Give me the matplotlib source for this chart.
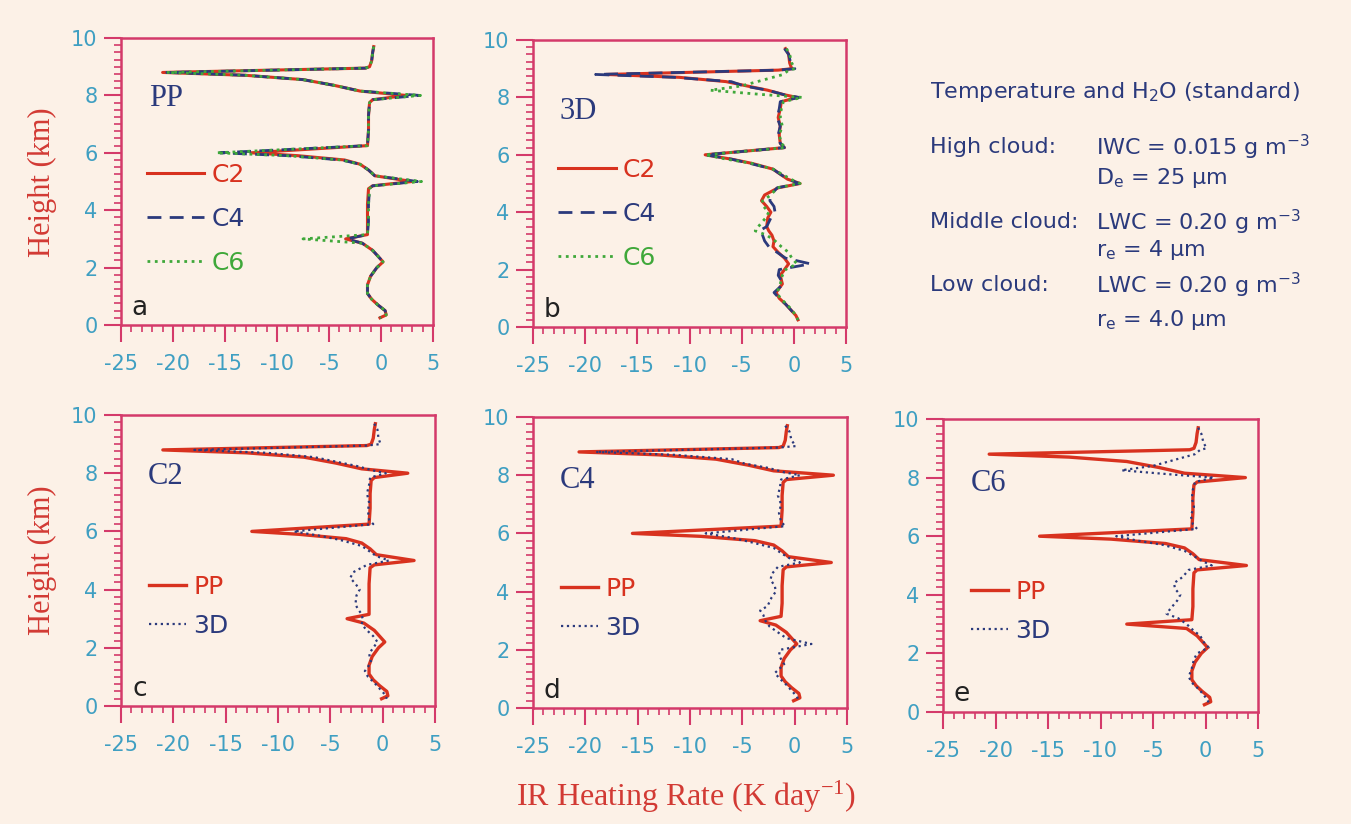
import matplotlib
matplotlib.use("Agg")
import matplotlib.pyplot as plt
from matplotlib.ticker import MultipleLocator

plt.rcParams['font.family'] = ['DejaVu Sans']
plt.rcParams['axes.unicode_minus'] = False
plt.rcParams['mathtext.default'] = 'regular'

# heights (km) for the plane-parallel (PP) profiles
h_pp = [9.7, 9.5, 9.2, 9.0, 8.95, 8.8, 8.7, 8.55, 8.35, 8.15,
        8.0, 7.85, 7.75, 7.3, 6.8, 6.25, 6.0, 5.9, 5.75, 5.6,
        5.4, 5.2, 5.0, 4.85, 4.75, 4.2, 3.6, 3.15, 3.0, 2.85,
        2.6, 2.4, 2.2, 2.0, 1.7, 1.4, 1.1, 0.9, 0.7, 0.5, 0.35, 0.25]

# IR heating rate (K/day), PP
pp_c2 = [-0.7, -0.8, -0.9, -1.1, -1.5, -21.0, -13.0, -7.5, -4.5, -2.0,
         2.4, -0.8, -1.1, -1.2, -1.2, -1.3, -12.5, -8.0, -3.5, -2.0,
         -1.2, -0.6, 3.0, -0.8, -1.2, -1.3, -1.3, -1.3, -3.4, -1.8,
         -0.8, -0.3, 0.2, -0.4, -1.0, -1.3, -1.3, -0.9, -0.3, 0.4, 0.5, -0.1]
pp_c4 = [-0.7, -0.8, -0.9, -1.1, -1.5, -20.6, -13.0, -7.5, -4.5, -2.0,
         3.7, -0.8, -1.1, -1.2, -1.2, -1.3, -15.5, -9.0, -3.8, -2.0,
         -1.2, -0.6, 3.5, -0.8, -1.1, -1.2, -1.2, -1.3, -3.3, -1.8,
         -0.8, -0.3, 0.2, -0.4, -1.0, -1.3, -1.3, -0.9, -0.3, 0.4, 0.5, -0.1]
pp_c6 = [-0.7, -0.8, -0.9, -1.1, -1.5, -20.6, -13.0, -7.5, -4.5, -2.0,
         3.8, -0.8, -1.1, -1.2, -1.2, -1.3, -15.8, -9.0, -3.8, -2.0,
         -1.2, -0.6, 3.9, -0.8, -1.1, -1.2, -1.2, -1.3, -7.5, -1.8,
         -0.8, -0.3, 0.2, -0.4, -1.0, -1.3, -1.3, -0.9, -0.3, 0.4, 0.5, -0.1]

# heights (km) for the 3D profiles
h_3d = [9.7, 9.5, 9.2, 9.0, 8.95, 8.8, 8.7, 8.55, 8.4, 8.25,
        8.1, 8.0, 7.85, 7.6, 7.3, 7.0, 6.7, 6.4, 6.25, 6.0,
        5.85, 5.7, 5.5, 5.3, 5.15, 5.0, 4.85, 4.6, 4.4, 4.2,
        4.0, 3.8, 3.5, 3.35, 3.2, 3.0, 2.8, 2.6, 2.4, 2.2,
        2.0, 1.8, 1.5, 1.2, 1.0, 0.8, 0.6, 0.4, 0.25]

td_c2 = [-0.8, -0.5, -0.4, -0.2, -1.5, -18.0, -11.0, -6.5, -4.5, -2.5,
         -1.0, 0.3, -1.2, -1.3, -1.5, -1.3, -1.4, -1.3, -0.9, -8.5,
         -6.0, -4.0, -2.0, -1.2, -0.6, 0.6, -1.5, -2.8, -3.1, -2.6,
         -2.2, -2.5, -2.6, -2.4, -2.1, -1.9, -2.0, -1.5, -0.9, -0.5,
         -0.9, -1.3, -1.1, -1.7, -1.4, -0.8, -0.3, 0.2, 0.4]
td_c4 = [-0.9, -0.5, -0.3, 0.1, -1.5, -19.0, -11.5, -6.0, -4.8, -2.5,
         -1.0, 0.5, -1.3, -1.4, -1.6, -1.3, -1.5, -1.3, -0.9, -8.5,
         -6.0, -4.2, -2.0, -1.2, -0.5, 0.5, -1.6, -2.2, -2.3, -1.9,
         -1.8, -2.2, -2.6, -3.3, -3.0, -2.8, -2.4, -1.6, -0.8, 1.6,
         -1.4, -1.5, -1.0, -1.9, -1.4, -0.8, -0.3, 0.2, 0.4]
td_c6 = [-0.7, -0.4, -0.2, 0.1, -0.5, -1.0, -2.0, -3.5, -5.0, -8.0,
         -3.0, 0.8, -1.0, -1.2, -1.3, -1.1, -1.4, -1.2, -0.8, -8.5,
         -6.5, -4.0, -2.0, -1.0, -0.3, 0.6, -1.6, -2.2, -3.0, -2.9,
         -2.4, -2.7, -3.4, -3.7, -2.6, -1.8, -1.2, -0.5, -0.2, 0.3,
         -0.8, -1.1, -1.3, -1.6, -1.3, -0.7, -0.2, 0.2, 0.4]

bg = '#fcf1e7'
spine = '#d43a6a'
tickc = '#3f9fc2'
red = '#d8321f'
navy = '#2b3a7c'
green = '#3fa83a'
label_red = '#d23a34'

fig = plt.figure(figsize=(13.51, 8.24), dpi=100, facecolor=bg)


def make_axes(left, top, right, bottom):
    W, H = 1351.0, 824.0
    ax = fig.add_axes([left / W, 1 - bottom / H, (right - left) / W, (bottom - top) / H])
    ax.set_facecolor(bg)
    ax.set_xlim(-25, 5)
    ax.set_ylim(0, 10)
    for s in ax.spines.values():
        s.set_color(spine)
        s.set_linewidth(1.8)
    ax.set_xticks(range(-25, 6, 5))
    ax.set_yticks(range(0, 11, 2))
    ax.xaxis.set_minor_locator(MultipleLocator(1))
    ax.yaxis.set_minor_locator(MultipleLocator(0.25))
    ax.tick_params(which='major', direction='out', length=12, width=1.5,
                   color=spine, labelcolor=tickc, labelsize=15)
    ax.tick_params(which='minor', direction='out', length=5, width=1.2, color=spine)
    ax.tick_params(axis='x', which='major', pad=9)
    ax.tick_params(axis='y', which='major', pad=5)
    return ax


ax_a = make_axes(121, 38, 433, 325)
ax_b = make_axes(533, 40, 846, 327)
ax_c = make_axes(121, 415, 435, 706)
ax_d = make_axes(533, 417, 847, 708)
ax_e = make_axes(943, 419, 1258, 712)

# panels a and b: the three cloud cases
for ax, (v2, v4, v6), h in [(ax_a, (pp_c2, pp_c4, pp_c6), h_pp),
                            (ax_b, (td_c2, td_c4, td_c6), h_3d)]:
    ax.plot(v2, h, color=red, lw=2.2, label='C2')
    ax.plot(v4, h, color=navy, lw=2, dashes=(5, 3), label='C4')
    ax.plot(v6, h, color=green, lw=2, linestyle=':', label='C6')

ax_a.legend(loc='upper left', bbox_to_anchor=(0.083, 0.565), frameon=False,
            fontsize=18, handlelength=2.3, handletextpad=0.3, labelspacing=0.8,
            borderpad=0, borderaxespad=0, labelcolor='linecolor')
ax_b.legend(loc='upper left', bbox_to_anchor=(0.08, 0.59), frameon=False,
            fontsize=18, handlelength=2.3, handletextpad=0.3, labelspacing=0.8,
            borderpad=0, borderaxespad=0, labelcolor='linecolor')

# panels c, d, e: PP versus 3D for each case
for ax, pp, td in [(ax_c, pp_c2, td_c2), (ax_d, pp_c4, td_c4), (ax_e, pp_c6, td_c6)]:
    ax.plot(pp, h_pp, color=red, lw=2.4, label='PP')
    ax.plot(td, h_3d, color=navy, lw=1.6, linestyle=':', label='3D')
    ax.legend(loc='upper left', bbox_to_anchor=(0.09, 0.45), frameon=False,
              fontsize=18, handlelength=1.45, handletextpad=0.3, labelspacing=0.6,
              borderpad=0, borderaxespad=0, labelcolor=[red, navy])

for ax, name, y in [(ax_a, 'PP', 7.9), (ax_b, '3D', 7.5), (ax_c, 'C2', 7.87),
                    (ax_d, 'C4', 7.83), (ax_e, 'C6', 7.8)]:
    ax.text(-20.7, y, name, family='Liberation Serif', fontsize=22, color=navy,
            ha='center', va='center')

for ax, letter in zip([ax_a, ax_b, ax_c, ax_d, ax_e], 'abcde'):
    ax.text(-23.2, 0.6, letter, fontsize=19, color='#222222', ha='center', va='center')

fig.text(42 / 1351, 1 - 182 / 824, 'Height (km)', rotation=90, family='Liberation Serif',
         fontsize=22, color=label_red, ha='center', va='center')
fig.text(42 / 1351, 1 - 560 / 824, 'Height (km)', rotation=90, family='Liberation Serif',
         fontsize=22, color=label_red, ha='center', va='center')
fig.text(686 / 1351, 1 - 797 / 824, r'IR Heating Rate (K day$^{-1}$)',
         family='Liberation Serif', fontsize=23, color=label_red, ha='center', va='center')

# case description
tx = 930 / 1351
tx2 = 1096 / 1351
fs = 16
fig.text(tx, 1 - 92 / 824, r'Temperature and H$_2$O (standard)', fontsize=fs, color=navy, va='center')
fig.text(tx, 1 - 147 / 824, 'High cloud:', fontsize=fs, color=navy, va='center')
fig.text(tx2, 1 - 147 / 824, r'IWC = 0.015 g m$^{-3}$', fontsize=fs, color=navy, va='center')
fig.text(tx2, 1 - 178 / 824, r'D$_e$ = 25 µm', fontsize=fs, color=navy, va='center')
fig.text(tx, 1 - 222 / 824, r'Middle cloud:', fontsize=fs, color=navy, va='center')
fig.text(tx2, 1 - 222 / 824, r'LWC = 0.20 g m$^{-3}$', fontsize=fs, color=navy, va='center')
fig.text(tx2, 1 - 250 / 824, r'r$_e$ = 4 µm', fontsize=fs, color=navy, va='center')
fig.text(tx, 1 - 285 / 824, 'Low cloud:', fontsize=fs, color=navy, va='center')
fig.text(tx2, 1 - 285 / 824, r'LWC = 0.20 g m$^{-3}$', fontsize=fs, color=navy, va='center')
fig.text(tx2, 1 - 320 / 824, r'r$_e$ = 4.0 µm', fontsize=fs, color=navy, va='center')

fig.savefig('out.png', dpi=100, facecolor=bg)
